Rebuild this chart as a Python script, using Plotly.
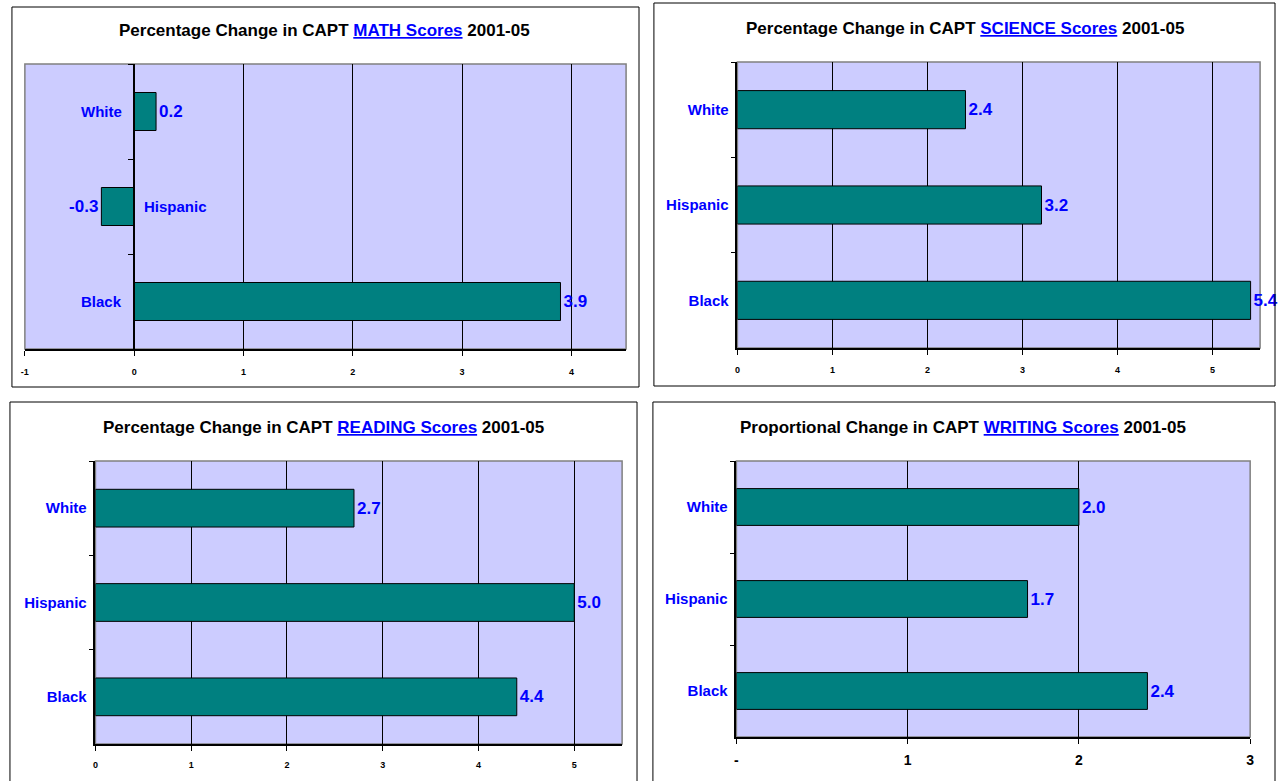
import plotly.graph_objects as go

categories = ["White", "Hispanic", "Black"]
math_change = [0.2, -0.3, 3.9]
science_change = [2.4, 3.2, 5.4]
reading_change = [2.7, 5.0, 4.4]
writing_change = [2.0, 1.7, 2.4]

math_ticks = [-1, 0, 1, 2, 3, 4]
science_ticks = [0, 1, 2, 3, 4, 5]
reading_ticks = [0, 1, 2, 3, 4, 5]
writing_ticks = [0, 1, 2, 3]
writing_ticktext = ["-", "1", "2", "3"]

title_lead = ["Percentage Change in CAPT", "Percentage Change in CAPT",
              "Percentage Change in CAPT", "Proportional Change in CAPT"]
title_subject = ["MATH Scores", "SCIENCE Scores", "READING Scores", "WRITING Scores"]
title_tail = "2001-05"

W, H = 1280, 781
FONT = "Liberation Sans, Arial, sans-serif"
BLUE = "#0000FF"
TEAL = "#008080"
BG = "#CCCCFF"

def fx(p):
    return p / W

def fy(p):
    return 1 - p / H

# layout geometry per panel: plot box (x0, y0, x1, y1) px, frame box px, title centre px
panels = [
    dict(vals=math_change, ticks=math_ticks, ticktext=[str(t) for t in math_ticks],
         rng=[-1, 4.5], plot=(21, 64, 626, 349), frame=(8, 7, 639, 387), tpos=(323, 31),
         tickfont=9, standoff=8),
    dict(vals=science_change, ticks=science_ticks, ticktext=[str(t) for t in science_ticks],
         rng=[0, 5.5], plot=(738, 62, 1264, 348), frame=(654, 3, 1279, 386), tpos=(967, 28),
         tickfont=9, standoff=7),
    dict(vals=reading_change, ticks=reading_ticks, ticktext=[str(t) for t in reading_ticks],
         rng=[0, 5.5], plot=(92, 461, 622, 744), frame=(6, 402, 637, 790), tpos=(322, 427),
         tickfont=9, standoff=6),
    dict(vals=writing_change, ticks=writing_ticks, ticktext=writing_ticktext,
         rng=[0, 3], plot=(737, 461, 1254, 737), frame=(653, 402, 1279, 790), tpos=(965, 427),
         tickfont=14, standoff=4),
]

fig = go.Figure()
shapes = []
annotations = []

for i, p in enumerate(panels):
    n = i + 1
    xa = "x" if n == 1 else f"x{n}"
    ya = "y" if n == 1 else f"y{n}"
    xkey = "xaxis" if n == 1 else f"xaxis{n}"
    ykey = "yaxis" if n == 1 else f"yaxis{n}"
    x0, y0, x1, y1 = p["plot"]

    fig.add_trace(go.Bar(
        x=p["vals"], y=categories, orientation="h", xaxis=xa, yaxis=ya,
        width=0.4, marker=dict(color=TEAL, line=dict(color="black", width=1)),
        texttemplate="%{x:.1f}", textposition="outside", cliponaxis=False,
        constraintext="none",
        textfont=dict(family=FONT, size=17, color=BLUE, weight="bold"),
        showlegend=False, hoverinfo="skip",
    ))

    xdom = [fx(x0), fx(x1)]
    ydom = [fy(y1), fy(y0)]
    fig.layout[xkey] = dict(
        domain=xdom, range=p["rng"], anchor=ya, tickmode="array",
        tickvals=p["ticks"], ticktext=p["ticktext"],
        showgrid=True, gridcolor="black", gridwidth=1, zeroline=False,
        showline=True, linecolor="black", linewidth=1.5,
        ticks="outside", ticklen=5, tickcolor="black", tickwidth=1,
        ticklabelstandoff=p["standoff"],
        tickfont=dict(family=FONT, size=p["tickfont"], color="black", weight="bold"),
        fixedrange=True,
    )
    yax = dict(
        domain=ydom, type="category", categoryorder="array", categoryarray=categories,
        autorange="reversed", tickson="boundaries", ticks="outside", ticklen=5,
        tickcolor="black", showgrid=False, zeroline=False,
        showline=True, linecolor="black", linewidth=1.5,
        tickfont=dict(family=FONT, size=15, color=BLUE, weight="bold"),
        ticklabelstandoff=4, fixedrange=True,
    )
    if n == 1:
        r0, r1 = p["rng"]
        zero_pos = xdom[0] + (0 - r0) / (r1 - r0) * (xdom[1] - xdom[0])
        yax.update(anchor="free", position=zero_pos, showticklabels=False)
        for cat, v in zip(categories, p["vals"]):
            left_side = v >= 0
            annotations.append(dict(
                x=0, y=cat, xref=xa, yref=ya, text=cat, showarrow=False,
                xanchor="right" if left_side else "left",
                xshift=-10 if left_side else 8,
                font=dict(family=FONT, size=15, color=BLUE, weight="bold"),
            ))
    else:
        yax.update(anchor=xa)
    fig.layout[ykey] = yax

    # plot-area border (grey)
    shapes.append(dict(type="rect", xref=f"{xa} domain", yref=f"{ya} domain",
                       x0=0, x1=1, y0=0, y1=1, line=dict(color="#808080", width=1.5),
                       fillcolor="rgba(0,0,0,0)", layer="below"))
    # outer frame
    fx0, fy0, fx1, fy1 = p["frame"]
    shapes.append(dict(type="rect", xref="paper", yref="paper",
                       x0=fx(fx0), x1=fx(fx1), y0=fy(fy1), y1=fy(fy0),
                       line=dict(color="black", width=1), fillcolor="rgba(0,0,0,0)"))
    # title
    tx, ty = p["tpos"]
    annotations.append(dict(
        x=fx(tx), y=fy(ty), xref="paper", yref="paper", showarrow=False,
        xanchor="center", yanchor="middle",
        text=f"{title_lead[i]} <span style='color:{BLUE}'><u>{title_subject[i]}</u></span> {title_tail}",
        font=dict(family=FONT, size=17, color="black", weight="bold"),
    ))

fig.update_layout(
    width=W, height=H, margin=dict(l=0, r=0, t=0, b=0),
    paper_bgcolor="white", plot_bgcolor=BG,
    shapes=shapes, annotations=annotations, bargap=0.6,
)

fig.write_html(
    "out.html",
    config={"displayModeBar": False},
    post_script="document.body.style.margin='0';document.body.style.overflow='hidden';",
)
